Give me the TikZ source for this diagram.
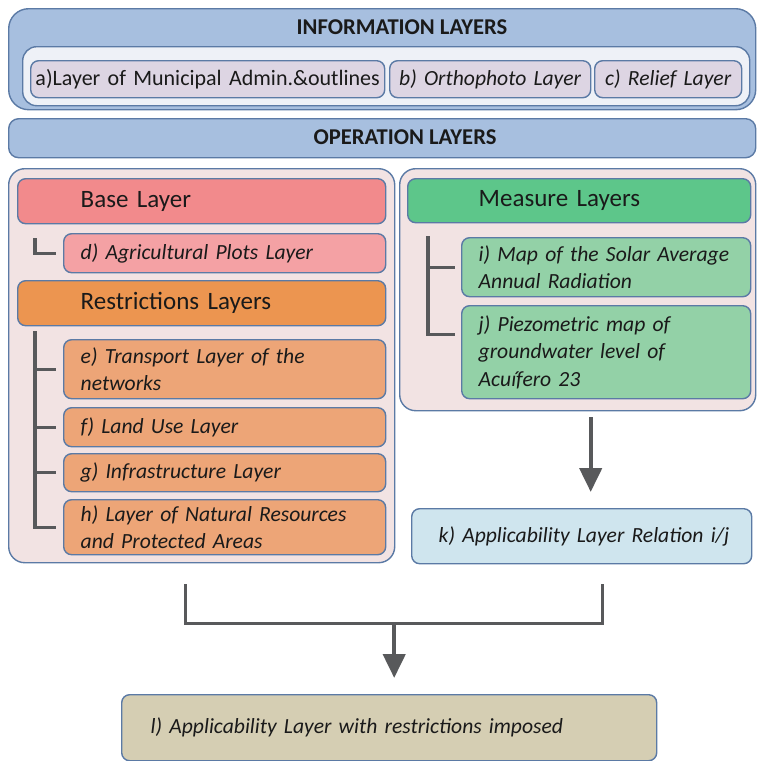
\documentclass[tikz,border=0pt]{standalone}
\usepackage{fontspec}
\setmainfont{Carlito}
\usetikzlibrary{arrows.meta,calc,positioning}
\definecolor{edge}{HTML}{5B7AA5}
\definecolor{ink}{HTML}{1A1A1A}
\definecolor{infoblue}{HTML}{A7BFDF}
\definecolor{infoin}{HTML}{EEF1F7}
\definecolor{lav}{HTML}{DDD5E3}
\definecolor{panel}{HTML}{F2E3E3}
\definecolor{basered}{HTML}{F28A8C}
\definecolor{dpink}{HTML}{F4A1A4}
\definecolor{orange}{HTML}{EC9550}
\definecolor{lorange}{HTML}{EDA577}
\definecolor{green}{HTML}{5DC68A}
\definecolor{lgreen}{HTML}{93D1A7}
\definecolor{kblue}{HTML}{CFE5EE}
\definecolor{ltan}{HTML}{D5CEB3}
\definecolor{wire}{HTML}{58595B}

\begin{document}
\begin{tikzpicture}[x=1pt,y=1pt,
  lay/.style n args={3}{draw=edge,line width=0.7pt,rounded corners=4pt,anchor=north west,align=left,inner ysep=0pt,minimum width=#1,minimum height=#2,inner xsep=#3,text width=#1-2*#3,text=ink},
  hdr/.style={font=\fontsize{12.5}{15}\selectfont},
  itm/.style={font=\fontsize{10.8}{13.75}\selectfont\itshape},
  ttl/.style={font=\fontsize{11.3}{13}\selectfont\bfseries,text=ink},
  tree/.style={draw=wire,line width=1.6pt},
  link/.style={draw=wire,line width=1.5pt},
  flow/.style={draw=wire,line width=2.2pt,-{Triangle[width=11pt,length=12pt]},shorten >=8pt}]
  \useasboundingbox (0,0) rectangle (378,-380.5);

  % information layers
  \node[lay={373.5pt}{50.5pt}{0pt},fill=infoblue,rounded corners=10pt] (info) at (4,-4) {};
  \node[ttl] (infot) at (201,-13.5) {INFORMATION LAYERS};
  \node[lay={363.5pt}{29.5pt}{0pt},fill=infoin,rounded corners=7pt] (infoin) at (11,-23) {};
  \node[lay={177pt}{18.5pt}{0pt},fill=lav,align=center,font=\fontsize{11}{13}\selectfont] (a) at (15,-30) {a)Layer of Municipal Admin.\&outlines};
  \node[lay={100.5pt}{18.5pt}{0pt},fill=lav,align=center,itm] (b) at (194.5,-30) {b) Orthophoto Layer};
  \node[lay={73.5pt}{18.5pt}{0pt},fill=lav,align=center,itm] (c) at (297,-30) {c) Relief Layer};

  % operation layers
  \node[lay={373.5pt}{19.5pt}{0pt},fill=infoblue,rounded corners=5pt] (oper) at (4,-59) {};
  \node[ttl] (opert) at (202.5,-68.5) {OPERATION LAYERS};

  \node[lay={193pt}{197pt}{0pt},fill=panel,rounded corners=8pt] (left) at (4,-84) {};
  \node[lay={178pt}{121pt}{0pt},fill=panel,rounded corners=8pt] (right) at (199.5,-84) {};

  \node[lay={184pt}{22.5pt}{31.5pt},fill=basered,hdr] (base) at (8.5,-89) {Base Layer};
  \node[lay={161pt}{19.5pt}{8.5pt},fill=dpink,itm] (d) at (31.5,-116.5) {d) Agricultural Plots Layer};
  \node[lay={184pt}{22.5pt}{31.5pt},fill=orange,hdr] (restr) at (8.5,-140) {Restrictions Layers};
  \node[lay={161pt}{29.5pt}{8.5pt},fill=lorange,itm] (e) at (31.5,-169.5) {e) Transport Layer of the\\networks};
  \node[lay={161pt}{19.5pt}{8.5pt},fill=lorange,itm] (f) at (31.5,-203.5) {f) Land Use Layer};
  \node[lay={161pt}{19pt}{8.5pt},fill=lorange,itm] (g) at (31.5,-226.5) {g) Infrastructure Layer};
  \node[lay={161pt}{27.5pt}{8.5pt},fill=lorange,itm] (h) at (31.5,-249.5) {h) Layer of Natural Resources\\and Protected Areas};

  \node[lay={171.5pt}{22pt}{35.5pt},fill=green,hdr] (measure) at (203.5,-89) {Measure Layers};
  \node[lay={144.5pt}{29.5pt}{8.5pt},fill=lgreen,itm] (i) at (230.5,-118.5) {i) Map of the Solar Average\\Annual Radiation};
  \node[lay={144.5pt}{46.5pt}{8.5pt},fill=lgreen,itm] (j) at (230.5,-152.5) {j) Piezometric map of\\groundwater level of\\Acuífero 23};

  \node[lay={170pt}{27.5pt}{4pt},fill=kblue,itm] (k) at (205.5,-254) {\hspace*{9.5pt}k) Applicability Layer Relation i/j};
  \node[lay={267.5pt}{33pt}{14.5pt},fill=ltan,itm] (l) at (60.5,-347) {l) Applicability Layer with restrictions imposed};

  % trees
  \draw[tree] ([xshift=9pt,yshift=-7pt]base.south west) |- ([xshift=-3.5pt]d.west);
  \draw[tree] ([xshift=9pt,yshift=-2.5pt]restr.south west) coordinate (rbar) |- ([xshift=-3.5pt]h.west);
  \foreach \n in {e,f,g}
    \draw[tree] (rbar |- \n.west) -- ([xshift=-3.5pt]\n.west);
  \draw[tree] ([xshift=10.5pt,yshift=-6.5pt]measure.south west) coordinate (mbar) |- ([xshift=-3pt,yshift=9pt]j.west);
  \draw[tree] (mbar |- i.west) -- ([xshift=-3pt]i.west);

  % arrows
  \draw[flow] ([xshift=6.5pt,yshift=-3pt]right.south) coordinate (rdn) -- (rdn |- k.north);
  \coordinate (jl) at ([xshift=-8pt,yshift=-10.5pt]left.south);
  \coordinate (jr) at ([xshift=10.5pt,yshift=-10pt]k.south);
  \draw[link] (jl) -- ++(0,-19.5) coordinate (jb) -| (jr);
  \coordinate (jm) at ($(jb)!0.5!(jb -| jr)$);
  \draw[flow] (jm) -- (jm |- l.north);
\end{tikzpicture}
\end{document}
